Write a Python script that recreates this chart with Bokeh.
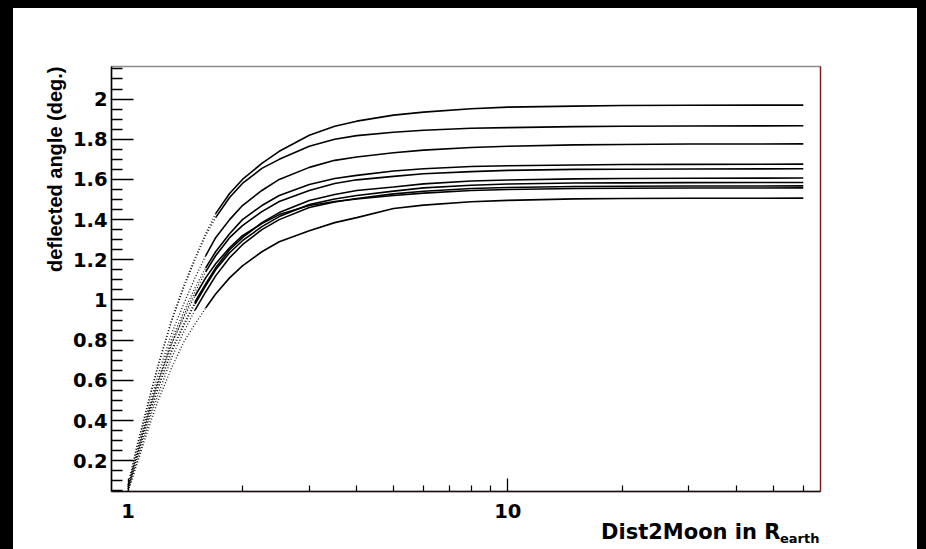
import math
from bokeh.plotting import figure
from bokeh.models import FixedTicker, Label, LinearAxis, Title
from bokeh.embed import file_html
from bokeh.resources import INLINE

# ---------------- data ----------------
dist = [1.0, 1.05, 1.1, 1.15, 1.2, 1.3, 1.4, 1.5, 1.6, 1.7, 1.85, 2.0, 2.25, 2.5,
        3.0, 3.5, 4.0, 5.0, 6.0, 8.0, 10, 15, 20, 30, 60]

angle_1 = [0.08, 0.26, 0.41, 0.55, 0.68, 0.90, 1.07, 1.21, 1.33, 1.43, 1.53, 1.60, 1.68, 1.74,
           1.82, 1.865, 1.89, 1.92, 1.935, 1.952, 1.96, 1.965, 1.968, 1.969, 1.97]
angle_2 = [0.08, 0.25, 0.40, 0.54, 0.67, 0.89, 1.06, 1.20, 1.32, 1.41, 1.51, 1.58, 1.655, 1.70,
           1.765, 1.80, 1.818, 1.835, 1.845, 1.855, 1.858, 1.863, 1.865, 1.866, 1.867]
angle_3 = [0.07, 0.23, 0.38, 0.51, 0.63, 0.83, 0.98, 1.11, 1.22, 1.31, 1.40, 1.47, 1.545, 1.60,
           1.66, 1.695, 1.712, 1.733, 1.746, 1.759, 1.765, 1.772, 1.774, 1.776, 1.777]
angle_4 = [0.07, 0.22, 0.36, 0.49, 0.60, 0.80, 0.94, 1.06, 1.16, 1.24, 1.33, 1.40, 1.47, 1.52,
           1.575, 1.605, 1.62, 1.642, 1.653, 1.664, 1.668, 1.672, 1.674, 1.675, 1.676]
angle_5 = [0.06, 0.21, 0.35, 0.48, 0.59, 0.78, 0.92, 1.04, 1.14, 1.22, 1.31, 1.37, 1.44, 1.49,
           1.545, 1.58, 1.598, 1.615, 1.628, 1.639, 1.645, 1.650, 1.651, 1.652, 1.653]
angle_6 = [0.06, 0.20, 0.34, 0.46, 0.57, 0.75, 0.88, 0.99, 1.08, 1.16, 1.25, 1.31, 1.385, 1.435,
           1.495, 1.525, 1.545, 1.562, 1.578, 1.592, 1.597, 1.603, 1.605, 1.606, 1.607]
angle_7 = [0.06, 0.20, 0.33, 0.45, 0.56, 0.74, 0.87, 0.98, 1.07, 1.15, 1.235, 1.295, 1.365, 1.415,
           1.475, 1.503, 1.52, 1.542, 1.558, 1.571, 1.577, 1.582, 1.583, 1.584, 1.585]
angle_8 = [0.05, 0.18, 0.31, 0.43, 0.53, 0.71, 0.84, 0.95, 1.04, 1.12, 1.21, 1.275, 1.35, 1.40,
           1.46, 1.488, 1.505, 1.528, 1.541, 1.555, 1.560, 1.565, 1.566, 1.567, 1.568]
angle_9 = [0.07, 0.22, 0.36, 0.49, 0.60, 0.78, 0.91, 1.02, 1.11, 1.18, 1.26, 1.32, 1.38, 1.425,
           1.47, 1.49, 1.503, 1.52, 1.532, 1.545, 1.550, 1.555, 1.556, 1.557, 1.558]
angle_10 = [0.05, 0.17, 0.29, 0.40, 0.50, 0.66, 0.79, 0.88, 0.96, 1.03, 1.11, 1.17, 1.24, 1.29,
            1.345, 1.385, 1.41, 1.455, 1.472, 1.489, 1.496, 1.503, 1.505, 1.506, 1.507]

curves = [angle_1, angle_2, angle_3, angle_4, angle_5,
          angle_6, angle_7, angle_8, angle_9, angle_10]
# distance at which each curve changes from dotted to solid
solid_from = [1.7, 1.7, 1.6, 1.6, 1.6, 1.5, 1.5, 1.5, 1.5, 1.6]

x_major = [1, 10]
x_major_labels = ["1", "10"]
x_minor = [2, 3, 4, 5, 6, 7, 8, 9, 20, 30, 40, 50, 60]
y_major = [0.2, 0.4, 0.6, 0.8, 1.0, 1.2, 1.4, 1.6, 1.8, 2.0]
y_major_labels = ["0.2", "0.4", "0.6", "0.8", "1", "1.2", "1.4", "1.6", "1.8", "2"]
y_minor = [0.05, 0.1, 0.15, 0.25, 0.3, 0.35, 0.45, 0.5, 0.55, 0.65, 0.7, 0.75,
           0.85, 0.9, 0.95, 1.05, 1.1, 1.15, 1.25, 1.3, 1.35, 1.45, 1.5, 1.55,
           1.65, 1.7, 1.75, 1.85, 1.9, 1.95, 2.05, 2.1, 2.15]

x_title = "Dist2Moon in R"
x_title_sub = "earth"
y_title = "deflected angle (deg.)"

# ---------------- figure ----------------
X0, X1 = 0.904, 66.6
Y0, Y1 = 0.047, 2.162
OX, OY = 13, 8            # page offset of the canvas
W, H = 904, 541
ML, MR, MT, MB = 98, 97, 58, 58

p = figure(width=W, height=H, x_axis_type="log",
           x_range=(X0, X1), y_range=(Y0, Y1),
           output_backend="svg", toolbar_location=None,
           min_border_left=ML, min_border_right=MR,
           min_border_top=MT, min_border_bottom=MB)
p.styles = {"outline": "13px solid black", "margin-left": "13px", "margin-top": "8px"}
p.background_fill_color = "white"
p.border_fill_color = "white"
p.xgrid.visible = False
p.ygrid.visible = False
p.outline_line_color = "#8c8c8c"
p.outline_line_width = 1.5

for ys, xs_t in zip(curves, solid_from):
    k = dist.index(xs_t)
    p.line(dist[:k + 1], ys[:k + 1], line_color="black", line_width=1.3,
           line_dash="1 2", line_alpha=0.9)
    p.line(dist[k:], ys[k:], line_color="black", line_width=1.6)

tick_font = "DejaVu Sans"
tick_size = "19.5px"

xa = p.xaxis[0]
xa.ticker = FixedTicker(ticks=x_major, minor_ticks=x_minor)
xa.major_label_overrides = dict(zip(x_major, x_major_labels))
xa.major_tick_in = 13
xa.major_tick_out = 0
xa.minor_tick_in = 6
xa.minor_tick_out = 0
xa.axis_line_color = "#1a1010"
xa.axis_line_width = 1.5
xa.major_tick_line_width = 1.3
xa.minor_tick_line_width = 1.2
xa.major_label_text_font = tick_font
xa.major_label_text_font_style = "bold"
xa.major_label_text_font_size = tick_size
xa.major_label_text_color = "black"
xa.major_label_standoff = 12

ya = p.yaxis[0]
ya.ticker = FixedTicker(ticks=y_major, minor_ticks=y_minor)
ya.major_label_overrides = dict(zip(y_major, y_major_labels))
ya.major_tick_in = 22
ya.major_tick_out = 0
ya.minor_tick_in = 11
ya.minor_tick_out = 0
ya.axis_line_color = "black"
ya.axis_line_width = 1.5
ya.major_tick_line_width = 1.5
ya.minor_tick_line_width = 1.3
ya.major_label_text_font = tick_font
ya.major_label_text_font_style = "bold"
ya.major_label_text_font_size = tick_size
ya.major_label_text_color = "black"
ya.major_label_standoff = 4

ra = LinearAxis(ticker=FixedTicker(ticks=[]), axis_line_color="#7a1c1c",
                axis_line_width=1.2, major_tick_line_color=None,
                minor_tick_line_color=None, major_label_text_font_size="0px")
p.add_layout(ra, "right")

# y title: aligned to the top end of the axis
p.add_layout(Title(text=y_title, align="right", text_font="Liberation Sans",
                   text_font_style="bold", text_font_size="20px",
                   text_color="black", standoff=8), "left")

# helpers: page pixel -> data coordinate
FL, FR, FT, FB = OX + ML, OX + W - MR, OY + MT, OY + H - MB


def px_to_x(px):
    return X0 * (X1 / X0) ** ((px - FL) / (FR - FL))


def py_to_y(py):
    return Y0 + (FB - py) / (FB - FT) * (Y1 - Y0)


p.add_layout(Label(x=px_to_x(780), y=py_to_y(531), text=x_title,
                   text_align="right", text_baseline="alphabetic",
                   text_font=tick_font, text_font_style="bold",
                   text_font_size="21px", text_color="black"), "above")
p.add_layout(Label(x=px_to_x(819), y=py_to_y(538), text=x_title_sub,
                   text_align="right", text_baseline="alphabetic",
                   text_font=tick_font, text_font_style="bold",
                   text_font_size="13px", text_color="black"), "above")

open("out.html", "w").write(file_html(p, INLINE))
